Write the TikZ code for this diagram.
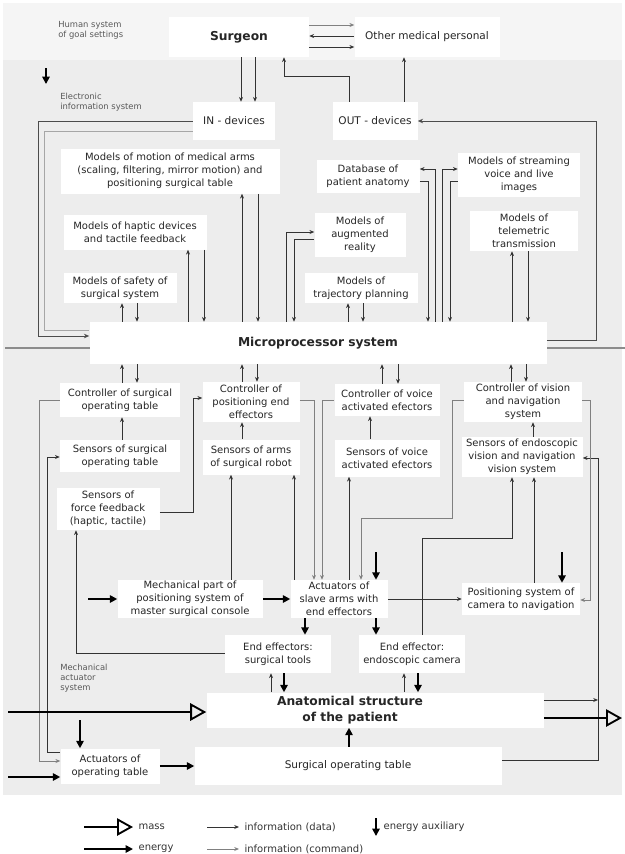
\documentclass[tikz,border=0pt]{standalone}
\usepackage{fontspec}
\setmainfont{DejaVu Sans}
\usetikzlibrary{arrows.meta}

\begin{document}
\begin{tikzpicture}[x=0.75pt,y=-0.75pt,
    box/.style={fill=white,inner sep=0pt,align=center,text=black!85,font=\fontsize{7.5}{9.9}\selectfont},
    mid/.style={box,font=\fontsize{7.9}{10}\selectfont},
    big/.style={box,font=\fontsize{9.2}{12.2}\selectfont\bfseries},
    wh/.style 2 args={minimum width=#1*0.75pt,minimum height=#2*0.75pt},
    tag/.style={align=left,anchor=north west,inner sep=0pt,text=black!65,font=\fontsize{6.3}{7.4}\selectfont},
    lgd/.style={anchor=west,inner xsep=4pt,inner ysep=0pt,text=black!80,font=\fontsize{7.5}{9}\selectfont},
    dat/.style={draw=black!80,line width=0.55pt,-{Stealth[length=3.6pt,width=3pt]}},
    cmd/.style={draw=black!50,line width=0.55pt,-{Stealth[length=3.6pt,width=3pt]}},
    frm/.style={draw=black!70,line width=0.75pt,-{Stealth[length=4pt,width=3.4pt]}},
    nrg/.style={draw=black,line width=1.3pt,-{Triangle[length=5.5pt,width=5.5pt]}},
    mass/.style={draw=black,line width=1.6pt,-{Triangle[open,length=12pt,width=13pt,line width=1.4pt]}}]
    \useasboundingbox (0,0) rectangle (625,854);
    \fill[black!7] (3,3) rectangle (622,795);
    \fill[black!4] (3,3) rectangle (622,60);
    \draw[black!45,line width=0.8pt] (5,348) -- (625,348);

    \node[tag] (human) at (58,21) {Human system\\of goal settings};
    \node[tag] (elec) at (60,93) {Electronic\\information system};
    \node[tag] (mechsys) at (60,664) {Mechanical\\actuator\\system};

    \node[big,wh={140}{40}] (surg) at (239,37) {Surgeon};
    \node[mid,wh={145}{40}] (other) at (427,37) {Other medical personal};
    \node[mid,wh={82}{38}] (in) at (234,121) {IN - devices};
    \node[mid,wh={85}{38}] (out) at (375,121) {OUT - devices};

    \node[box,wh={219}{45}] (motion) at (170,171) {Models of motion of medical arms\\(scaling, filtering, mirror motion) and\\positioning surgical table};
    \node[box,wh={103}{33}] (db) at (368,176) {Database of\\patient anatomy};
    \node[box,wh={122}{44}] (stream) at (519,175) {Models of streaming\\voice and live\\images};
    \node[box,wh={143}{35}] (haptic) at (135,232) {Models of haptic devices\\and tactile feedback};
    \node[box,wh={91}{44}] (aug) at (360,235) {Models of\\augmented\\reality};
    \node[box,wh={108}{40}] (telem) at (524,231) {Models of\\telemetric\\transmission};
    \node[box,wh={113}{30}] (safety) at (120,288) {Models of safety of\\surgical system};
    \node[box,wh={113}{30}] (traj) at (361,288) {Models of\\trajectory planning};
    \node[big,wh={457}{42}] (micro) at (318,343) {Microprocessor system};

    \node[box,wh={120}{34}] (ctab) at (120,400) {Controller of surgical\\operating table};
    \node[box,wh={97}{40}] (cpos) at (251,402) {Controller of\\positioning end\\effectors};
    \node[box,wh={105}{32}] (cvoi) at (387,400) {Controller of voice\\activated efectors};
    \node[box,wh={118}{40}] (cvis) at (523,402) {Controller of vision\\and navigation\\system};
    \node[box,wh={120}{32}] (stab) at (120,456) {Sensors of surgical\\operating table};
    \node[box,wh={97}{35}] (sarm) at (251,457) {Sensors of arms\\of surgical robot};
    \node[box,wh={105}{37}] (svoi) at (387,458) {Sensors of voice\\activated efectors};
    \node[box,wh={121}{40}] (sendo) at (522,457) {Sensors of endoscopic\\vision and navigation\\vision system};
    \node[box,wh={103}{42}] (sforce) at (108,509) {Sensors of\\force feedback\\(haptic, tactile)};

    \node[box,wh={145}{38}] (mech) at (190,599) {Mechanical part of\\positioning system of\\master surgical console};
    \node[box,wh={97}{38}] (act) at (339,599) {Actuators of\\slave arms with\\end effectors};
    \node[box,wh={118}{32}] (posit) at (521,599) {Positioning system of\\camera to navigation};
    \node[box,wh={106}{38}] (tools) at (278,654) {End effectors:\\surgical tools};
    \node[box,wh={106}{38}] (cam) at (412,654) {End effector:\\endoscopic camera};
    \node[box,wh={337}{35}] (anat) at (375,710) {};
    \node[big,fill=none] (anattxt) at (350,710) {Anatomical structure\\of the patient};
    \node[box,wh={99}{35}] (aopt) at (110,766) {Actuators of\\operating table};
    \node[mid,wh={307}{38}] (opt) at (348,766) {Surgical operating table};

    \draw[cmd] (surg.east |- 0,25) -- (other.west |- 0,25);
    \draw[dat] (other.west |- 0,36) -- (surg.east |- 0,36);
    \draw[dat] (surg.east |- 0,47) -- (other.west |- 0,47);
    \draw[dat] (241,0 |- surg.south) -- (241,0 |- in.north);
    \draw[dat] (255,0 |- surg.south) -- (255,0 |- in.north);
    \draw[dat] (349,0 |- out.north) -- (349,76) -- (284,76) -- (284,0 |- surg.south);
    \draw[dat] (404,0 |- out.north) -- (404,0 |- other.south);
    \draw[nrg] (46,68) -- (46,84);
    \draw[frm] (in.west) -- (38,0 |- in.west) -- (38,336) -- (micro.west |- 0,336);
    \draw[black!35,line width=0.6pt] (in.west |- 0,131) -- (44,131) -- (44,330) -- (micro.west |- 0,330);
    \draw[frm] (micro.east |- 0,340) -- (596,340) -- (596,0 |- out.east) -- (out.east);

    \foreach \m/\a/\b in {safety/122/137, haptic/188/204, motion/242/258, traj/348/363, telem/512/528} {
        \draw[dat] (\a,0 |- micro.north) -- (\a,0 |- \m.south);
        \draw[dat] (\b,0 |- \m.south) -- (\b,0 |- micro.north);
    }
    \draw[dat] (286,0 |- micro.north) -- (286,232) -- (aug.west |- 0,232);
    \draw[dat] (aug.west |- 0,239) -- (294,239) -- (294,0 |- micro.north);
    \draw[dat] (db.east |- 0,181) -- (428,181) -- (428,0 |- micro.north);
    \draw[dat] (435,0 |- micro.north) -- (435,169) -- (db.east |- 0,169);
    \draw[dat] (442,0 |- micro.north) -- (442,169) -- (stream.west |- 0,169);
    \draw[dat] (stream.west |- 0,181) -- (450,181) -- (450,0 |- micro.north);

    \foreach \m/\a/\b in {ctab/122/137, cpos/242/257, cvoi/382/398, cvis/511/526} {
        \draw[dat] (\a,0 |- \m.north) -- (\a,0 |- micro.south);
        \draw[dat] (\b,0 |- micro.south) -- (\b,0 |- \m.north);
    }
    \foreach \s/\c/\x in {stab/ctab/122, sarm/cpos/242, svoi/cvoi/370, sendo/cvis/533}
        \draw[dat] (\x,0 |- \s.north) -- (\x,0 |- \c.south);

    \draw[dat] (aopt.west |- 0,752) -- (47,752) -- (47,457) -- (stab.west |- 0,457);
    \draw[dat] (tools.west |- 0,653) -- (76,653) -- (76,0 |- sforce.south);
    \draw[dat] (sforce.east |- 0,512) -- (193,512) -- (193,398) -- (cpos.west |- 0,398);
    \draw[dat] (231,0 |- mech.north) -- (231,0 |- sarm.south);
    \draw[dat] (294,0 |- act.north) -- (294,0 |- sarm.south);
    \draw[dat] (349,0 |- act.north) -- (349,0 |- svoi.south);
    \draw[dat] (422,0 |- cam.north) -- (422,538) -- (512,538) -- (512,0 |- sendo.south);
    \draw[dat] (534,0 |- posit.north) -- (534,0 |- sendo.south);
    \draw[dat] (opt.east |- 0,760) -- (598,760) -- (598,458) -- (sendo.east |- 0,458);
    \draw[dat] (anat.east |- 0,700) -- (598,700);

    \draw[cmd] (ctab.west |- 0,400) -- (39,400) -- (39,761) -- (aopt.west |- 0,761);
    \draw[cmd] (cpos.east |- 0,400) -- (314,400) -- (314,0 |- act.north);
    \draw[cmd] (cvoi.west |- 0,400) -- (322,400) -- (322,0 |- act.north);
    \draw[cmd] (cvis.west |- 0,400) -- (452,400) -- (452,518) -- (361,518) -- (361,0 |- act.north);
    \draw[cmd] (cvis.east |- 0,400) -- (590,400) -- (590,600) -- (posit.east |- 0,600);

    \draw[nrg] (88,599) -- (mech.west);
    \draw[nrg] (mech.east) -- (act.west);
    \draw[dat] (act.east) -- (posit.west);
    \draw[nrg] (376,552) -- (376,0 |- act.north);
    \draw[nrg] (562,552) -- (562,0 |- posit.north);
    \draw[nrg] (305,0 |- act.south) -- (305,0 |- tools.north);
    \draw[nrg] (376,0 |- act.south) -- (376,0 |- cam.north);
    \draw[dat] (271,0 |- anat.north) -- (271,0 |- tools.south);
    \draw[nrg] (284,0 |- tools.south) -- (284,0 |- anat.north);
    \draw[dat] (404,0 |- anat.north) -- (404,0 |- cam.south);
    \draw[nrg] (418,0 |- cam.south) -- (418,0 |- anat.north);
    \draw[nrg] (349,0 |- opt.north) -- (349,0 |- anat.south);
    \draw[mass] (8,712) -- (anat.west |- 0,712);
    \draw[mass] (anat.east |- 0,718) -- (622,718);
    \draw[nrg] (80,720) -- (80,0 |- aopt.north);
    \draw[nrg] (8,777) -- (aopt.west |- 0,777);
    \draw[nrg] (aopt.east) -- (opt.west);

    \node[lgd] (lmass) at (133,827) {mass};
    \node[lgd] (lnrg) at (133,849) {energy};
    \node[lgd] (ldat) at (239,827) {information (data)};
    \node[lgd] (lcmd) at (239,849) {information (command)};
    \node[lgd] (laux) at (378,827) {energy auxiliary};
    \draw[mass] (84,827) -- (lmass.west);
    \draw[nrg] (84,849) -- (lnrg.west);
    \draw[dat] (207,827) -- (ldat.west);
    \draw[cmd] (207,849) -- (lcmd.west);
    \draw[nrg] (376,818) -- (376,836);
\end{tikzpicture}
\end{document}
